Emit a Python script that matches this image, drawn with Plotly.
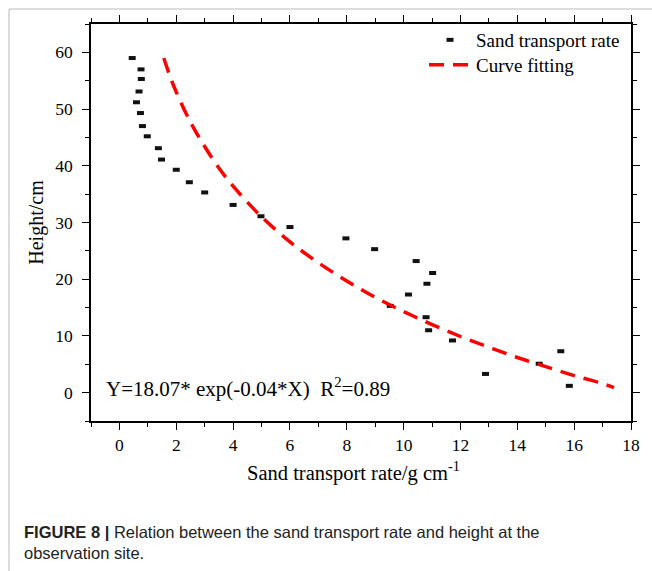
import plotly.graph_objects as go

# Measured data (sand transport rate, height)
rate = [0.45, 0.76, 0.77, 0.69, 0.60, 0.74, 0.81, 0.98, 1.37, 1.48, 2.0, 2.46, 3.0, 4.0, 4.98,
        6.0, 7.97, 8.98, 10.44, 11.02, 10.82, 10.17, 9.53, 10.79, 10.88, 11.72, 12.88, 14.77, 15.53, 15.83]
height = [59.0, 57.0, 55.3, 53.1, 51.2, 49.3, 47.0, 45.2, 43.1, 41.1, 39.3, 37.1, 35.3, 33.1, 31.1,
          29.2, 27.2, 25.3, 23.2, 21.1, 19.2, 17.3, 15.3, 13.3, 11.0, 9.2, 3.3, 5.1, 7.3, 1.2]

# Fitted curve, points
fit_rate = [1.56, 1.8, 2.0, 2.5, 3.0, 3.5, 4.0, 5.0, 6.0, 7.0, 8.0, 9.0, 10.0, 11.0, 12.0, 13.0, 14.0, 15.0, 16.0, 17.0, 17.4]
fit_height = [59.0, 55.5, 53.0, 47.7, 43.4, 39.6, 36.4, 31.0, 26.6, 22.9, 19.7, 16.8, 14.3, 12.0, 9.9, 8.0, 6.2, 4.6, 3.0, 1.6, 0.9]

xticks = [0, 2, 4, 6, 8, 10, 12, 14, 16, 18]
yticks = [0, 10, 20, 30, 40, 50, 60]

serif = "Liberation Serif, Times New Roman, serif"

# plot-area geometry in pixels
L, R, T, B = 91, 631, 24, 421
W, H = R - L, B - T


def px(x):
    return (x - L) / W


def py(y):
    return 1 - (y - T) / H


fig = go.Figure()
fig.add_trace(go.Scatter(
    x=rate, y=height, mode="markers", name="Sand transport rate", legend="legend",
    marker=dict(symbol="line-ew", size=5, color="#111111", line=dict(width=4, color="#111111")),
))
fig.add_trace(go.Scatter(
    x=fit_rate, y=fit_height, mode="lines", name="Curve fitting", legend="legend2",
    line=dict(color="#ff0000", width=3.5, dash="15px,9px", shape="spline"),
))

axis_common = dict(
    showline=True, linecolor="black", linewidth=1.5, mirror="allticks",
    ticks="outside", ticklen=7, tickwidth=1.3, tickcolor="black",
    showgrid=False, zeroline=False,
    tickfont=dict(family=serif, size=17.5, color="black"),
)

fig.update_xaxes(
    range=[-1, 18], tickvals=xticks, ticktext=[str(t) for t in xticks],
    minor=dict(dtick=1, tick0=-1, ticks="outside", ticklen=4, tickcolor="black", tickwidth=1.3),
    **axis_common,
)
fig.update_yaxes(
    range=[-5, 65], tickvals=yticks, ticktext=[str(t) for t in yticks],
    minor=dict(dtick=5, tick0=-5, ticks="outside", ticklen=4, tickcolor="black", tickwidth=1.3),
    title=dict(text="Height/cm", font=dict(family=serif, size=20, color="black"), standoff=6),
    ticklabelstandoff=6,
    **axis_common,
)

# x-axis title
fig.add_annotation(
    x=px(353), y=py(471), xref="paper", yref="paper", xanchor="center", yanchor="middle",
    text="Sand transport rate/g cm<sup>-1</sup>", showarrow=False,
    font=dict(family=serif, size=20.5, color="black"),
)

# fitted equation
fig.add_annotation(
    x=px(104), y=py(387), xref="paper", yref="paper", xanchor="left", yanchor="middle",
    text="Y=18.07* exp(-0.04*X)  R<sup>2</sup>=0.89", showarrow=False,
    font=dict(family=serif, size=21, color="black"),
)

# caption
fig.add_annotation(
    x=px(22), y=py(521), xref="paper", yref="paper",
    xanchor="left", yanchor="top", align="left", showarrow=False,
    text="<b>FIGURE 8 |</b> Relation between the sand transport rate and height at the<br>observation site.",
    font=dict(family="Liberation Sans Narrow, Liberation Sans, Arial, sans-serif", size=16.5, color="#222222"),
)

# figure frame (light grey)
fig.add_shape(type="line", xref="paper", yref="paper",
              x0=px(9), x1=px(652), y0=py(9), y1=py(9),
              line=dict(color="#bbbbbb", width=1))
fig.add_shape(type="line", xref="paper", yref="paper",
              x0=px(9), x1=px(9), y0=py(9), y1=py(571),
              line=dict(color="#bbbbbb", width=1))

legend_common = dict(
    xanchor="left", yanchor="top", bgcolor="rgba(0,0,0,0)", borderwidth=0,
    font=dict(family=serif, size=19, color="black"), itemwidth=42,
)

fig.update_layout(
    width=652, height=571,
    margin=dict(l=L, r=652 - R, t=T, b=571 - B, autoexpand=False),
    plot_bgcolor="white", paper_bgcolor="white",
    showlegend=True,
    legend=dict(x=px(424), y=py(21), **legend_common),
    legend2=dict(x=px(424), y=py(46), **legend_common),
)

fig.write_html("out.html")
